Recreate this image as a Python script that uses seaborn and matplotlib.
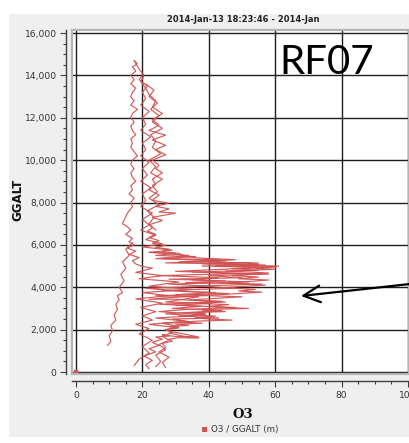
import numpy as np
import pandas as pd
import matplotlib
matplotlib.use("Agg")
import matplotlib.pyplot as plt
from matplotlib.patches import Rectangle
from matplotlib.ticker import FuncFormatter, MultipleLocator
import seaborn as sns

# ---- flight legs: ozone (O3) against GPS altitude (GGALT, m) ----
o3_climb = [22, 21, 23, 20.5, 24, 22, 25, 23, 26, 24,
            28, 26, 30, 37, 33, 29, 27, 31, 28, 34,
            30, 38, 33, 36, 47, 40, 36, 42, 35, 39,
            34, 45, 38, 41, 52, 44, 40, 46, 38, 36,
            44, 33, 30, 22, 27, 56, 49, 54, 44, 57,
            51, 46, 58, 49, 55, 47, 58, 52, 45, 60,
            54, 61, 49, 55, 44, 40, 48, 37, 33, 31,
            26, 28, 24, 27, 23, 25, 22, 24, 21.5, 23,
            22, 26, 23, 30, 25, 28, 24, 28, 23, 25,
            22, 24, 23, 26, 24, 25, 23, 27, 24, 27,
            23, 27, 22, 25, 23, 26, 23, 24, 22, 21,
            19.5, 20.5, 19, 17.5]
alt_climb = [150, 350, 550, 750, 950, 1100, 1250, 1400, 1550, 1650,
             1700, 1750, 1680, 1650, 1780, 1900, 2000, 2080, 2150, 2200,
             2260, 2300, 2350, 2400, 2450, 2500, 2560, 2640, 2700, 2760,
             2800, 2850, 2920, 2960, 3000, 3050, 3100, 3180, 3230, 3280,
             3340, 3400, 3440, 3430, 3500, 3770, 3820, 3900, 3980, 4100,
             4150, 4200, 4340, 4400, 4480, 4550, 4670, 4720, 4760, 4850,
             4900, 5000, 5050, 5140, 5180, 5220, 5300, 5380, 5450, 5600,
             5680, 5800, 5880, 5980, 6080, 6200, 6350, 6500, 6650, 6800,
             6950, 7150, 7300, 7500, 7550, 7700, 7820, 7970, 8100, 8350,
             8600, 8850, 9100, 9400, 9600, 9760, 10000, 10250, 10500, 10700,
             10950, 11180, 11400, 11650, 11900, 12200, 12500, 12800, 13100, 13400,
             13700, 14000, 14300, 14700]

o3_descent = [17.5, 18.5, 17, 18, 16.5, 17.5, 16.5, 18, 17, 16.5,
              17.5, 16.5, 18.5, 17, 16.5, 17.5, 16.5, 17, 18, 16.5,
              17, 16.5, 17.5, 18.5, 17, 16.5, 17.5, 16.5, 17, 18,
              16.5, 17, 16, 17.5, 16.5, 17, 15.5, 14, 15.5, 16.5,
              15, 17, 16, 17.5, 15.5, 18, 16, 19, 17, 18,
              20, 23, 18, 26, 19, 31, 22, 35, 20, 28,
              18, 26, 19.5, 24, 20, 23, 18, 22, 19, 23,
              20, 22, 19, 17.5]
alt_descent = [14700, 14550, 14400, 14200, 14000, 13800, 13600, 13400, 13200, 13000,
               12800, 12600, 12400, 12200, 12000, 11800, 11600, 11400, 11200, 11000,
               10800, 10600, 10400, 10200, 10000, 9800, 9600, 9400, 9200, 9000,
               8800, 8600, 8400, 8200, 8000, 7800, 7500, 7000, 6850, 6700,
               6500, 6300, 6150, 6000, 5850, 5700, 5550, 5400, 5250, 5100,
               4980, 4900, 4700, 4550, 4400, 4250, 4050, 3900, 3750, 3600,
               3450, 3250, 3050, 2850, 2650, 2450, 2250, 2050, 1800, 1500,
               1200, 900, 600, 300]

o3_second = [24, 25.5, 24, 27, 25, 28, 26, 29, 27, 31,
             26, 35, 29, 43, 31, 39, 25, 33, 48, 30,
             41, 27, 37, 24, 46, 33, 21, 40, 28, 52,
             35, 43, 25, 50, 30, 59, 38, 55, 27, 45,
             24, 34, 22, 29, 20, 26, 21, 24, 19.5, 22,
             20, 23, 19.5, 21, 20, 22.5, 19.5, 21.5, 20, 22,
             19.5, 21, 20, 22.5, 19.5, 21, 20, 22, 19.5, 21,
             20, 21.5, 19, 20]
alt_second = [250, 500, 800, 1050, 1300, 1500, 1700, 1850, 2000, 2150,
              2300, 2350, 2500, 2550, 2650, 2700, 2850, 2950, 3050, 3150,
              3250, 3300, 3550, 3600, 3700, 3800, 3950, 4050, 4150, 4250,
              4350, 4450, 4550, 4650, 4750, 4950, 5000, 5080, 5150, 5250,
              5350, 5500, 5650, 5750, 5900, 6050, 6250, 6450, 6700, 6950,
              7200, 7500, 7800, 8100, 8400, 8700, 9000, 9300, 9600, 9900,
              10200, 10500, 10800, 11100, 11400, 11700, 12000, 12300, 12600, 12900,
              13200, 13500, 13800, 14000]

o3_mid = [22, 30, 24, 36, 26, 44, 31, 53, 38, 57,
          42, 60, 47, 55, 35, 58, 40, 50, 28, 45,
          33, 56, 37, 48, 26, 42, 30, 50, 34, 45,
          25, 38, 29, 44, 27, 36, 24, 33, 22, 30]
alt_mid = [5650, 5600, 5500, 5450, 5350, 5300, 5200, 5150, 5100, 5050,
           4980, 4950, 4880, 4800, 4720, 4620, 4550, 4450, 4380, 4300,
           4220, 4150, 4060, 3950, 3850, 3750, 3650, 3550, 3400, 3300,
           3200, 3100, 3000, 2900, 2750, 2650, 2550, 2400, 2250, 2100]

o3_low = [9.5, 10.5, 10, 11, 10.5, 12, 11.5, 12.5, 12, 13,
          12.5, 14, 13, 14.5, 13.5, 15, 14, 16, 15, 17]
alt_low = [1250, 1450, 1700, 1950, 2200, 2450, 2700, 2950, 3200, 3400,
           3600, 3750, 4000, 4300, 4600, 4900, 5200, 5500, 5800, 6100]

o3_base = [27, 26, 28, 25, 27, 26, 29, 28, 31, 37, 32, 28]
alt_base = [200, 450, 700, 950, 1150, 1350, 1450, 1550, 1620, 1600, 1700, 1850]

o3_return = [21, 23.5, 22, 24.5, 22.5, 25, 23, 26, 22.5, 24,
             23, 25.5, 22, 24, 22.5, 26, 23, 24.5, 22, 25,
             21.5, 23.5, 22, 24]
alt_return = [13600, 13300, 13000, 12700, 12400, 12100, 11800, 11500, 11200, 10900,
              10600, 10300, 10000, 9700, 9400, 9100, 8800, 8500, 8200, 7900,
              7600, 7300, 7000, 6700]

o3_origin = [0]
alt_origin = [0]

title_text = "2014-Jan-13 18:23:46 - 2014-Jan"
flight_label = "RF07"
series_label = "O3 / GGALT (m)"
x_ticks = [0, 20, 40, 60, 80, 100]
y_ticks = [0, 2000, 4000, 6000, 8000, 10000, 12000, 14000, 16000]

legs = [(o3_climb, alt_climb), (o3_descent, alt_descent), (o3_second, alt_second),
        (o3_mid, alt_mid), (o3_low, alt_low), (o3_base, alt_base),
        (o3_return, alt_return)]
frames = []
for i, (xs, ys) in enumerate(legs):
    frames.append(pd.DataFrame({"O3": xs, "GGALT": ys, "leg": i}))
df = pd.concat(frames, ignore_index=True)

RED = "#d05252"

sns.set_style("white")
plt.rcParams["font.family"] = ["DejaVu Sans"]

W, H = 409, 443
fig = plt.figure(figsize=(W / 100, H / 100), dpi=100)
fig.patch.set_facecolor("white")

# grey panel behind the chart
fig.patches.append(Rectangle((9 / W, 1 - 437 / H), 400 / W, 423 / H,
                             transform=fig.transFigure, facecolor="#efefef",
                             edgecolor="none", zorder=-10))

ax = fig.add_axes([72 / W, 1 - 374 / H, (409 - 72) / W, (374 - 30) / H])
ax.set_facecolor("white")

px_x = 3.32      # pixels per O3 unit
px_y = 339.0 / 16000
ax.set_xlim((72 - 76) / px_x, (409 - 76) / px_x)
ax.set_ylim(-2 / px_y, 16000 + 3 / px_y)

for v in x_ticks:
    ax.axvline(v, color="#1e1e1e", lw=1.0, zorder=1)
for v in y_ticks:
    ax.axhline(v, color="#1e1e1e", lw=1.0, zorder=1)

sns.lineplot(data=df, x="O3", y="GGALT", units="leg", estimator=None, sort=False,
             color=RED, lw=0.85, alpha=0.95, ax=ax, zorder=3, legend=False)
ax.scatter(o3_origin, alt_origin, s=14, color=RED, zorder=4, clip_on=False,
           edgecolors="none")

# frame around the plotting area
ax.add_patch(Rectangle((0, 0), 1, 1, transform=ax.transAxes, fill=False,
                       edgecolor="#b4b4b4", lw=1.6, clip_on=False, zorder=5))

for s in ["top", "right"]:
    ax.spines[s].set_visible(False)
ax.spines["left"].set_position(("outward", 4))
ax.spines["bottom"].set_position(("outward", 5))
for s in ["left", "bottom"]:
    ax.spines[s].set_color("#404040")
    ax.spines[s].set_linewidth(1.0)

ax.set_xticks(x_ticks)
ax.set_yticks(y_ticks)
ax.xaxis.set_minor_locator(MultipleLocator(5))
ax.yaxis.set_minor_locator(MultipleLocator(500))
ax.yaxis.set_major_formatter(FuncFormatter(lambda v, p: f"{v:,.0f}"))
ax.tick_params(which="major", length=4, width=0.8, color="#404040",
               labelsize=6.6, labelcolor="#333333", pad=3)
ax.tick_params(which="minor", length=2.3, width=0.8, color="#404040")
ax.tick_params(axis="x", which="both", bottom=True)
ax.tick_params(axis="y", which="both", left=True)
ax.set_xlabel("")
ax.set_ylabel("")

fig.text(243 / W, 1 - 19 / H, title_text, ha="center", va="center",
         fontsize=6, fontweight="bold", color="#222222")
fig.text(18 / W, 1 - 200 / H, "GGALT", rotation=90, ha="center", va="center",
         fontsize=8.5, fontweight="bold", color="#111111")
fig.text(243 / W, 1 - 414 / H, "O3", ha="center", va="center",
         fontsize=9.5, fontweight="bold", color="#111111", family="DejaVu Serif")
fig.text(327 / W, 1 - 62 / H, flight_label, ha="center", va="center",
         fontsize=29, color="black", family="Lato")

# legend entry
fig.patches.append(Rectangle((201.5 / W, 1 - 432 / H), 5.5 / W, 5.5 / H,
                             transform=fig.transFigure, facecolor=RED,
                             edgecolor="none"))
fig.text(211 / W, 1 - 429.5 / H, series_label, ha="left", va="center",
         fontsize=6.3, color="#333333")

# arrow pointing at the mid-level ozone maximum
ax.annotate("", xy=((301 - 76) / px_x, (372 - 296) / px_y),
            xytext=((410 - 76) / px_x, (372 - 284) / px_y),
            arrowprops=dict(arrowstyle="->,head_length=0.6,head_width=0.3",
                            color="black", lw=1.6, shrinkA=0, shrinkB=0,
                            mutation_scale=20),
            annotation_clip=False, zorder=6)

fig.savefig("out.png", dpi=100, facecolor="white")
